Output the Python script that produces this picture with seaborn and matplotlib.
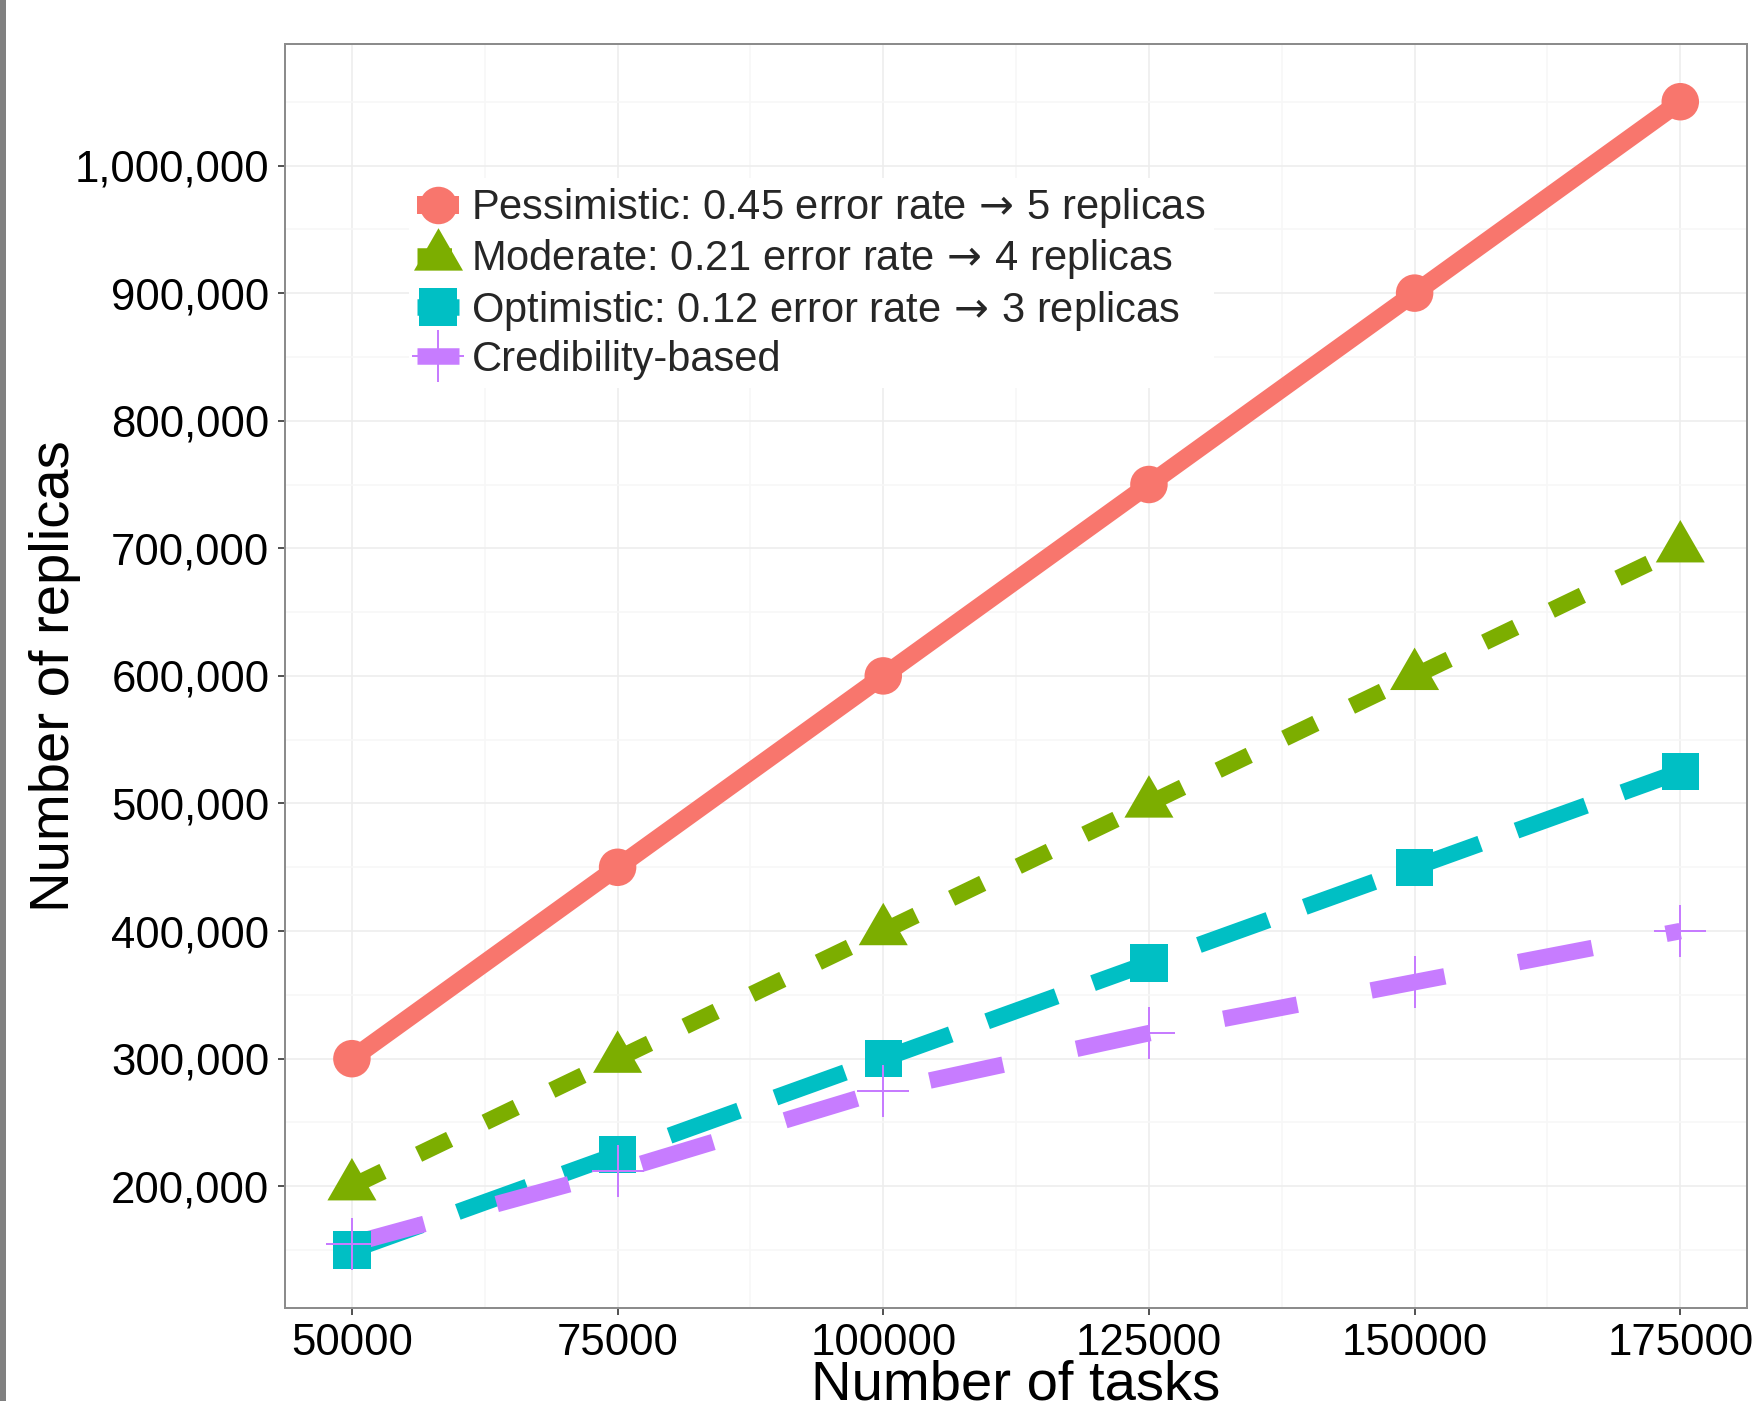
import numpy as np
import pandas as pd
import matplotlib
matplotlib.use("Agg")
import matplotlib.pyplot as plt
import seaborn as sns
from matplotlib.lines import Line2D
from matplotlib.patches import Rectangle
from matplotlib.path import Path
from matplotlib.ticker import FixedLocator, MultipleLocator

# ---------------- data ----------------
tasks = [50000, 75000, 100000, 125000, 150000, 175000]
pessimistic = [300000, 450000, 600000, 750000, 900000, 1050000]
moderate = [200000, 300000, 400000, 500000, 600000, 700000]
optimistic = [150000, 225000, 300000, 375000, 450000, 525000]
credibility = [155000, 212000, 275000, 320000, 360000, 400000]

series_names = [
    "Pessimistic: 0.45 error rate \u2192 5 replicas",
    "Moderate: 0.21 error rate \u2192 4 replicas",
    "Optimistic: 0.12 error rate \u2192 3 replicas",
    "Credibility-based",
]
series_values = [pessimistic, moderate, optimistic, credibility]
colors = ["#F8766D", "#7CAE00", "#00BFC4", "#C77CFF"]

xticks = [50000, 75000, 100000, 125000, 150000, 175000]
xtick_labels = [str(v) for v in xticks]
yticks = [200000, 300000, 400000, 500000, 600000, 700000, 800000, 900000, 1000000]
ytick_labels = [f"{v:,}" for v in yticks]
x_label = "Number of tasks"
y_label = "Number of replicas"

df = pd.DataFrame({
    "tasks": np.tile(tasks, len(series_names)),
    "replicas": np.concatenate(series_values),
    "series": np.repeat(series_names, len(tasks)),
})

# ---------------- style ----------------
sns.set_theme(style="white")
plt.rcParams["font.family"] = ["Liberation Sans", "DejaVu Sans"]
plt.rcParams["mathtext.fontset"] = "dejavusans"

W, H, DPI = 1756, 1401, 100
fig = plt.figure(figsize=(W / DPI, H / DPI), dpi=DPI)
fig.patch.set_facecolor("white")

px = 72.0 / DPI  # points per pixel

left_px, right_px, top_px, bottom_px = 285.5, 1746.7, 44.3, 1307.5
ax = fig.add_axes([left_px / W, 1 - bottom_px / H,
                   (right_px - left_px) / W, (bottom_px - top_px) / H])
ax.set_facecolor("white")

tri = Path([(-1.0, -0.577), (1.0, -0.577), (0.0, 1.155), (-1.0, -0.577)],
           [Path.MOVETO, Path.LINETO, Path.LINETO, Path.CLOSEPOLY])

line_widths = [18 * px, 16.5 * px, 16.5 * px, 16.5 * px]
line_styles = ["-", (0, (2.09, 2.39)), (0, (4.48, 2.34)), (0, (4.55, 4.55))]
markers = ["o", tri, "s", "+"]
marker_sizes = [37.5 * px, 56.6 * px, 37.5 * px, 52 * px]
marker_edge = [0, 0, 0, 2.0 * px]

# lines first (all series), then points on top
for i, name in enumerate(series_names):
    sub = df[df["series"] == name]
    sns.lineplot(data=sub, x="tasks", y="replicas", color=colors[i],
                 linewidth=line_widths[i], linestyle=line_styles[i],
                 solid_capstyle="butt", dash_capstyle="butt",
                 errorbar=None, sort=False, legend=False, ax=ax, zorder=3)

for i, name in enumerate(series_names):
    sub = df[df["series"] == name]
    if markers[i] == "+":
        sns.scatterplot(data=sub, x="tasks", y="replicas", marker="+",
                        s=marker_sizes[i] ** 2, color=colors[i],
                        linewidth=marker_edge[i], legend=False, ax=ax, zorder=4)
    else:
        sns.scatterplot(data=sub, x="tasks", y="replicas", marker=markers[i],
                        s=marker_sizes[i] ** 2, color=colors[i], edgecolor="none",
                        linewidth=0, legend=False, ax=ax, zorder=4)

# ---------------- axes ----------------
ax.set_xlim(43750, 181250)
ax.set_ylim(105000, 1095000)
ax.xaxis.set_major_locator(FixedLocator(xticks))
ax.set_xticklabels(xtick_labels)
ax.yaxis.set_major_locator(FixedLocator(yticks))
ax.set_yticklabels(ytick_labels)
ax.xaxis.set_minor_locator(MultipleLocator(12500))
ax.yaxis.set_minor_locator(MultipleLocator(50000))

ax.set_axisbelow(True)
ax.grid(which="major", color="#EDEDED", linewidth=1.6 * px)
ax.grid(which="minor", color="#F7F7F7", linewidth=1.6 * px)

ax.tick_params(which="major", direction="out", length=7 * px, width=2 * px,
               color="#555555", labelsize=31.5, labelcolor="black",
               bottom=True, left=True)
ax.tick_params(axis="y", which="major", pad=6.5)
ax.tick_params(axis="x", which="major", pad=6.0)
ax.tick_params(which="minor", length=0)

for s in ax.spines.values():
    s.set_visible(True)
    s.set_color("#8C8C8C")
    s.set_linewidth(2 * px)

ax.set_xlabel(x_label, fontsize=40.5, color="black")
ax.set_ylabel(y_label, fontsize=40.5, color="black")
ax_w = right_px - left_px
ax_h = bottom_px - top_px
ax.xaxis.set_label_coords(0.5, -(1399 - bottom_px) / ax_h)
ax.xaxis.label.set_va("baseline")
ax.yaxis.set_label_coords(-(left_px - 69) / ax_w, 0.5)
ax.yaxis.label.set_va("baseline")

# ---------------- legend ----------------
handles = []
for i in range(len(series_names)):
    if markers[i] == "+":
        h = Line2D([], [], color=colors[i], linewidth=line_widths[i],
                   linestyle=line_styles[i], marker="+",
                   markersize=marker_sizes[i], markeredgewidth=marker_edge[i],
                   markeredgecolor=colors[i], dash_capstyle="butt")
    else:
        h = Line2D([], [], color=colors[i], linewidth=line_widths[i],
                   linestyle=line_styles[i], marker=markers[i],
                   markersize=marker_sizes[i], markeredgewidth=0,
                   markerfacecolor=colors[i], solid_capstyle="butt",
                   dash_capstyle="butt")
    handles.append(h)

# the arrow is drawn through mathtext; cancel most of its own relation spacing
legend_labels = [n.replace(" \u2192 ", r" $\!\rightarrow\!$ ") for n in series_names]

leg = ax.legend(handles, legend_labels, loc="upper left",
                bbox_to_anchor=(409 / W, 1 - 178 / H),
                bbox_transform=fig.transFigure,
                frameon=True, facecolor="white", edgecolor="none",
                framealpha=1, fancybox=False, borderpad=0.2,
                labelspacing=0.17, handlelength=1.0, handletextpad=0.3,
                fontsize=30, borderaxespad=0, numpoints=1)
leg.set_zorder(6)

# thin grey strip on the far left edge of the image
fig.patches.append(Rectangle((0, 0), 6 / W, 1, transform=fig.transFigure,
                             facecolor="#808080", edgecolor="none", zorder=10))

fig.savefig("out.png", dpi=DPI, facecolor="white")
